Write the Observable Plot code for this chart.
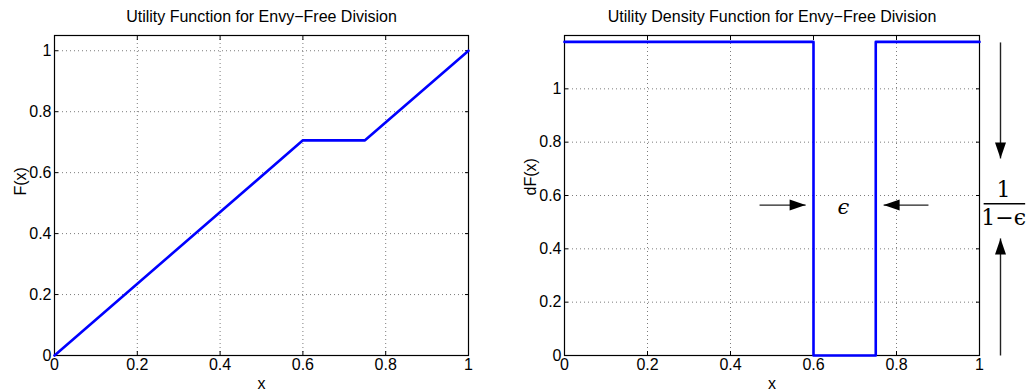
<!DOCTYPE html>
<html>
<head>
<meta charset="utf-8">
<script src="https://cdn.jsdelivr.net/npm/d3@7"></script>
<script src="https://cdn.jsdelivr.net/npm/@observablehq/plot@0.6"></script>
<style>
  html, body { margin: 0; padding: 0; background: #fff; }
  #wrap { display: flex; width: 1026px; height: 390px; }
</style>
</head>
<body>
<div id="wrap"></div>
<script>
// ---- data ----
const xTicks = [0, 0.2, 0.4, 0.6, 0.8, 1];
const leftYTicks = [0, 0.2, 0.4, 0.6, 0.8, 1];
const rightYTicks = [0, 0.2, 0.4, 0.6, 0.8, 1];
const breakpoints = [0, 0.6, 0.75, 1];
const utility = [0, 0.706, 0.706, 1];          // F(x)
const density = [1.176, 0, 1.176, 1.176];      // dF(x), step-after
const leftTitle = "Utility Function for Envy\u2212Free Division";
const rightTitle = "Utility Density Function for Envy\u2212Free Division";
const leftYLabel = "F(x)";
const rightYLabel = "dF(x)";
const xLabel = "x";
// annotation anchors (right panel, data units)
const hArrows = [
  {x1: 0.47, x2: 0.581, y: 0.564, rot: 90},
  {x1: 0.877, x2: 0.769, y: 0.564, rot: 270}
];
const vArrows = [
  {x: 1.0506, y1: 1.174, y2: 0.739, rot: 180},
  {x: 1.0506, y1: 0, y2: 0.439, rot: 0}
];
const epsLabel = [{x: 0.672, y: 0.555, t: "\u03f5"}];
const fracNum = [{x: 1.058, y: 0.619, t: "1"}];
const fracDen = [{x: 1.058, y: 0.514, t: "1\u2212\u03f5"}];
const fracBar = [{x1: 1.010, x2: 1.11, y: 0.569}];

const fmt = d => String(+d.toFixed(1));
const font = "'Liberation Sans', Arial, Helvetica, sans-serif";
const serif = "'DejaVu Serif', 'Liberation Serif', serif";

function frameAxes(ticksX, ticksY) {
  return [
    Plot.gridX(ticksX, {stroke: "#444", strokeOpacity: 0.7, strokeDasharray: "1,3"}),
    Plot.gridY(ticksY, {stroke: "#444", strokeOpacity: 0.7, strokeDasharray: "1,3"}),
    Plot.axisX(ticksX, {anchor: "bottom", tickSize: 0, tickPadding: 3, tickFormat: fmt, label: null}),
    Plot.axisY(ticksY, {anchor: "left", tickSize: 0, tickPadding: 3, tickFormat: fmt, label: null}),
    Plot.axisX(ticksX, {anchor: "bottom", tickSize: -4, fill: "none", label: null}),
    Plot.axisX(ticksX, {anchor: "top", tickSize: -4, fill: "none", label: null}),
    Plot.axisY(ticksY, {anchor: "left", tickSize: -4, fill: "none", label: null}),
    Plot.axisY(ticksY, {anchor: "right", tickSize: -4, fill: "none", label: null})
  ];
}

function texts(title, ylabel) {
  return [
    Plot.text([title], {frameAnchor: "top", dy: -19, fontSize: 16, lineAnchor: "middle"}),
    Plot.text([xLabel], {frameAnchor: "bottom", dy: 28, fontSize: 16, lineAnchor: "middle"}),
    Plot.text([ylabel], {frameAnchor: "left", dx: -34, rotate: -90, fontSize: 16, lineAnchor: "middle"})
  ];
}

const leftData = breakpoints.map((x, i) => ({x, y: utility[i]}));
const rightData = breakpoints.map((x, i) => ({x, y: density[i]}));

const left = Plot.plot({
  width: 513, height: 390,
  marginLeft: 54, marginRight: 45, marginTop: 35, marginBottom: 35,
  style: {fontFamily: font, fontSize: "16px", color: "black", background: "white", overflow: "visible"},
  x: {domain: [0, 1], axis: null},
  y: {domain: [0, 1.05], axis: null},
  marks: [
    ...frameAxes(xTicks, leftYTicks),
    Plot.frame({stroke: "black", strokeWidth: 1.2}),
    Plot.line(leftData, {x: "x", y: "y", stroke: "#0000ff", strokeWidth: 2.6}),
    ...texts(leftTitle, leftYLabel)
  ]
});

const right = Plot.plot({
  width: 513, height: 390,
  marginLeft: 51, marginRight: 47, marginTop: 35, marginBottom: 35,
  style: {fontFamily: font, fontSize: "16px", color: "black", background: "white", overflow: "visible"},
  x: {domain: [0, 1], axis: null},
  y: {domain: [0, 1.2], axis: null},
  marks: [
    ...frameAxes(xTicks, rightYTicks),
    Plot.frame({stroke: "black", strokeWidth: 1.2}),
    Plot.line(rightData, {x: "x", y: "y", curve: "step-after", stroke: "#0000ff", strokeWidth: 2.6}),
    ...texts(rightTitle, rightYLabel),
    // annotations
    Plot.link(hArrows, {x1: "x1", x2: "x2", y1: "y", y2: "y", stroke: "#222", strokeWidth: 1.4}),
    Plot.link(vArrows, {x1: "x", x2: "x", y1: "y1", y2: "y2", stroke: "#222", strokeWidth: 1.4}),
    Plot.vector(hArrows, {x: "x2", y: "y", rotate: "rot", length: 16, r: 5.5, anchor: "end", shape: "spike", fill: "black", stroke: "none"}),
    Plot.vector(vArrows, {x: "x", y: "y2", rotate: "rot", length: 16, r: 5.5, anchor: "end", shape: "spike", fill: "black", stroke: "none"}),
    Plot.text(epsLabel, {x: "x", y: "y", text: "t", fontFamily: serif, fontStyle: "italic", fontSize: 21}),
    Plot.text(fracNum, {x: "x", y: "y", text: "t", fontFamily: serif, fontSize: 22}),
    Plot.text(fracDen, {x: "x", y: "y", text: "t", fontFamily: serif, fontSize: 22}),
    Plot.link(fracBar, {x1: "x1", x2: "x2", y1: "y", y2: "y", stroke: "black", strokeWidth: 1.5})
  ]
});

document.getElementById("wrap").append(left, right);
</script>
</body>
</html>
